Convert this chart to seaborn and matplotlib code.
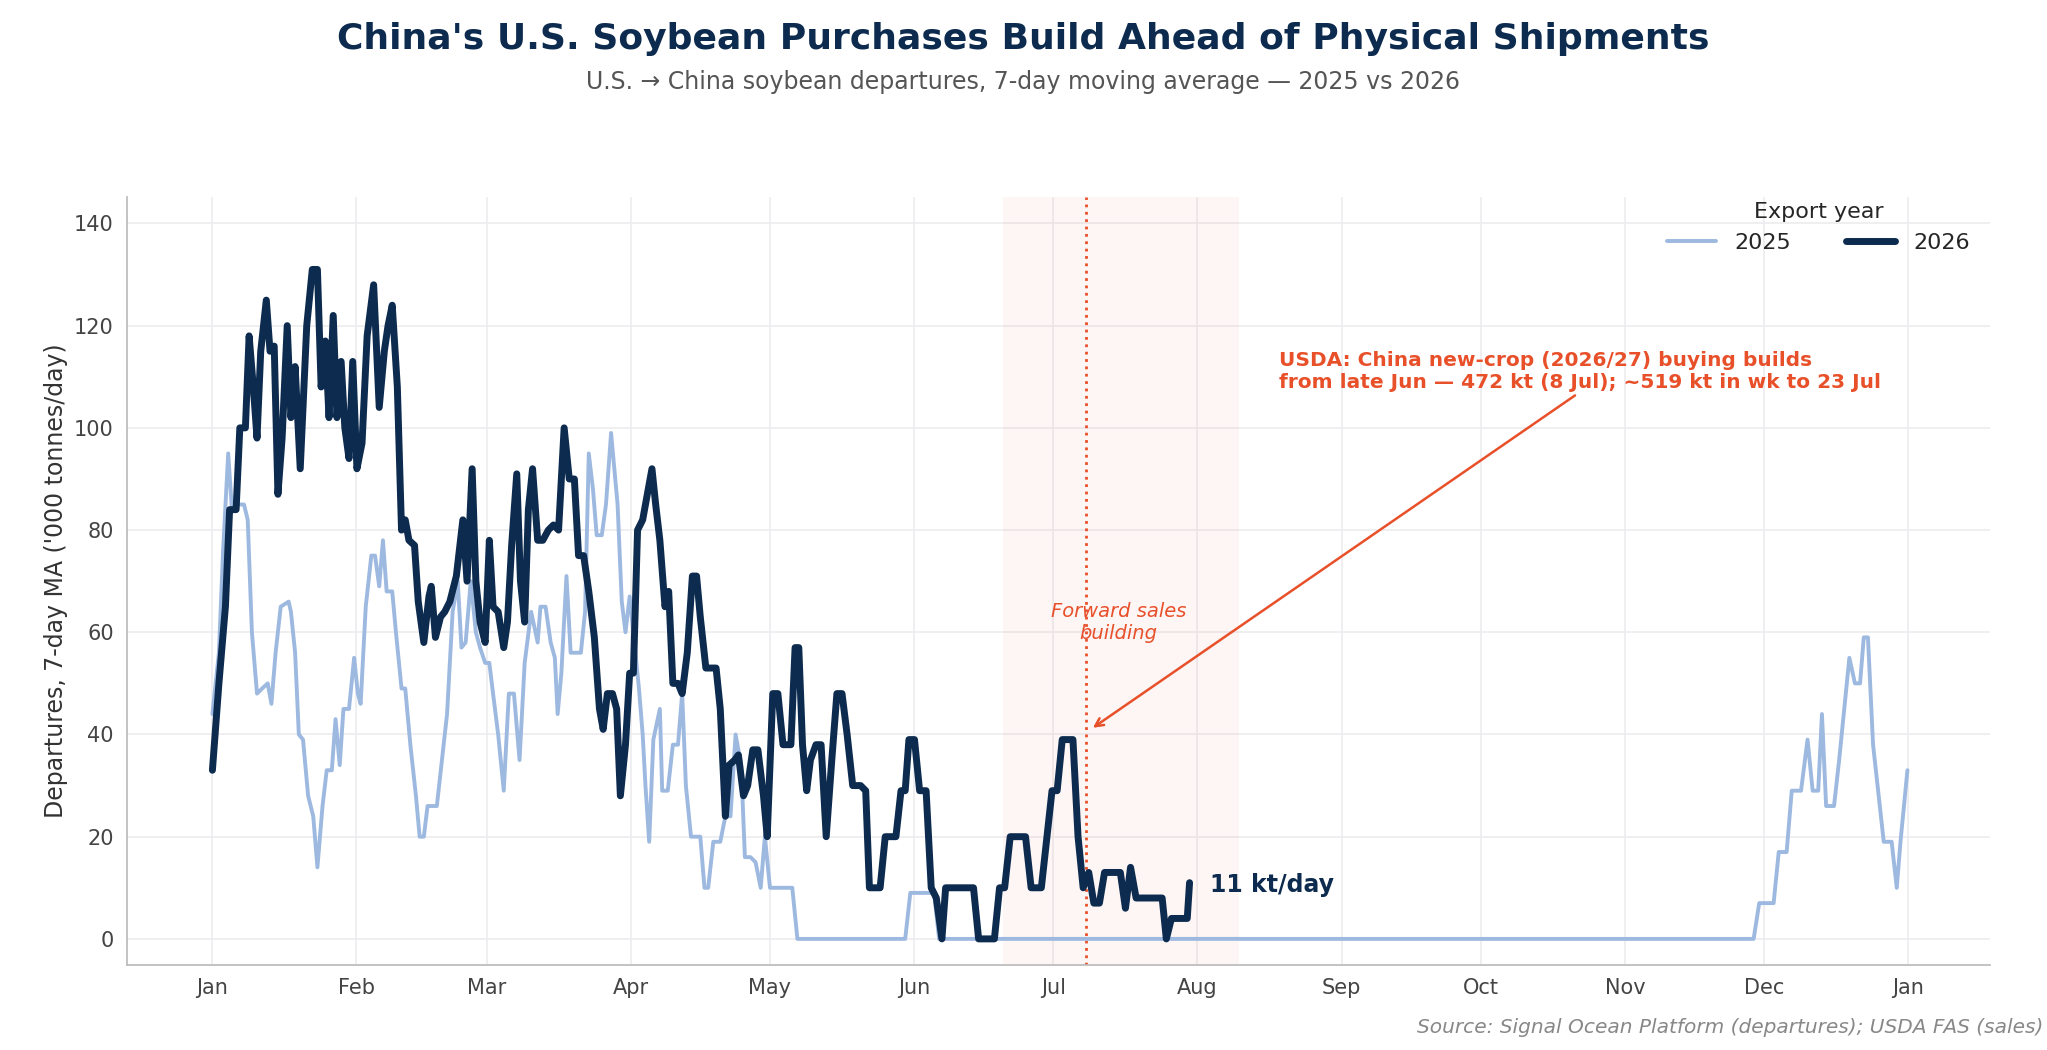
import numpy as np
import pandas as pd
import seaborn as sns
import matplotlib.pyplot as plt

# day of year (0 = 1 Jan) and 7-day MA departures ('000 t/day)
days_2026 = [0, 1.4, 2.8, 3.7, 5.1, 5.9, 7.1, 7.9, 8.8, 9.6, 10.4, 11.6, 12.4, 13.3, 14.1, 15.0, 16.1, 16.9,
             17.8, 18.9, 20.3, 21.5, 22.6, 23.4, 24.3, 25.1, 26.0, 26.8, 27.7, 28.5, 29.4, 30.2, 31.1, 32.2,
             33.3, 34.7, 35.9, 37.0, 37.8, 38.7, 39.8, 40.7, 41.5, 42.3, 43.5, 44.3, 45.5, 46.6, 47.1, 48.0,
             49.1, 50.0, 51.1, 52.5, 53.9, 54.8, 55.9, 56.7, 57.6, 58.7, 59.6, 60.4, 61.5, 62.7, 63.5, 64.4,
             65.5, 66.3, 67.2, 68.0, 68.9, 70.0, 71.1, 72.3, 73.4, 74.5, 75.7, 76.8, 77.9, 78.8, 79.9, 81.0,
             82.2, 83.3, 84.1, 85.0, 86.1, 87.0, 87.8, 88.9, 89.8, 90.6, 91.5, 92.6, 93.4, 94.6, 95.4, 96.3,
             97.4, 98.2, 99.1, 100.2, 101.1, 102.2, 103.3, 104.2, 105.0, 106.2, 107.3, 108.4, 109.3, 110.4,
             111.2, 112.4, 113.2, 114.3, 115.2, 116.3, 117.4, 118.6, 119.4, 120.6, 121.7, 122.8, 124.5, 125.4,
             126.2, 127.0, 127.9, 128.7, 129.9, 131.0, 132.1, 133.3, 134.4, 135.5, 136.6, 137.8, 139.5, 140.6,
             141.4, 142.6, 143.7, 144.8, 146.0, 147.1, 148.2, 149.1, 149.9, 151.1, 152.2, 153.6, 154.7, 155.8,
             157.0, 157.8, 159.2, 161.5, 163.8, 164.9, 167.1, 168.3, 169.4, 170.5, 171.7, 173.9, 175.0, 176.2,
             178.4, 179.6, 180.7, 181.8, 182.9, 185.2, 186.3, 187.4, 188.6, 189.7, 190.9, 192.0, 194.2, 195.4,
             196.5, 197.6, 198.8, 201.0, 203.3, 204.4, 205.3, 206.4, 208.6, 209.8, 210.3]
vals_2026 = [33, 50, 65, 84, 84, 100, 100, 118, 108, 98, 115, 125, 115, 116, 87, 98, 120, 102,
             112, 92, 120, 131, 131, 108, 117, 102, 122, 102, 113, 100, 94, 113, 92, 97,
             118, 128, 104, 115, 120, 124, 108, 80, 82, 78, 77, 66, 58, 67, 69, 59,
             63, 64, 66, 71, 82, 70, 92, 70, 62, 58, 78, 65, 64, 57, 62, 77,
             91, 70, 62, 84, 92, 78, 78, 80, 81, 80, 100, 90, 90, 75, 75, 68,
             59, 45, 41, 48, 48, 45, 28, 38, 52, 52, 80, 82, 86, 92, 85, 78,
             65, 68, 50, 50, 48, 56, 71, 71, 63, 53, 53, 53, 45, 24,
             34, 35, 36, 28, 30, 37, 37, 28, 20, 48, 48, 38, 38, 57,
             57, 38, 29, 35, 38, 38, 20, 35, 48, 48, 40, 30, 30, 29,
             10, 10, 10, 20, 20, 20, 29, 29, 39, 39, 29, 29, 10, 8,
             0, 10, 10, 10, 10, 0, 0, 0, 10, 10, 20, 20, 20, 10,
             10, 20, 29, 29, 39, 39, 20, 10, 13, 7, 7, 13, 13, 13,
             6, 14, 8, 8, 8, 8, 0, 4, 4, 4, 11]

days_2025 = [0, 1.4, 2.3, 3.4, 4.2, 5.4, 6.8, 7.6, 8.5, 9.6, 10.7, 11.9, 12.7, 13.6, 14.7, 16.4, 16.9, 17.8,
             18.6, 19.5, 20.6, 21.7, 22.6, 23.7, 24.6, 25.7, 26.5, 27.4, 28.2, 29.4, 30.5, 31.3, 31.9, 33.0,
             34.2, 35.0, 35.9, 36.7, 37.5, 38.7, 39.5, 40.7, 41.5, 42.6, 43.8, 44.6, 45.5, 46.3, 47.4, 48.3,
             49.4, 50.5, 51.7, 52.8, 53.6, 54.5, 55.6, 56.7, 57.6, 58.7, 59.6, 60.4, 61.5, 62.7, 63.8, 64.9,
             66.1, 67.2, 68.6, 70.0, 70.6, 71.7, 72.8, 73.7, 74.3, 75.1, 76.2, 77.1, 78.2, 79.3, 80.2, 81.0,
             81.9, 82.7, 83.8, 84.7, 85.8, 87.2, 88.1, 88.9, 89.8, 90.6, 91.8, 92.6, 93.2, 94.0, 94.9, 96.3,
             96.8, 98.0, 99.1, 100.2, 101.1, 101.9, 103.0, 104.2, 105.0, 105.9, 106.7, 107.8, 109.3, 110.4,
             111.5, 112.6, 113.8, 114.6, 115.8, 116.9, 118.0, 118.9, 120.0, 123.7, 124.8, 125.9, 149.1, 150.2,
             155.3, 156.4, 331.7, 332.9, 336.0, 337.1, 338.8, 339.9, 341.9, 343.3, 344.4, 345.6, 346.4, 347.3,
             349.0, 350.1, 351.2, 352.3, 353.5, 354.6, 355.4, 356.3, 357.4, 358.5, 359.7, 361.4, 362.5, 363.3,
             364.8]
vals_2025 = [44, 56, 76, 95, 84, 85, 85, 82, 60, 48, 49, 50, 46, 56, 65, 66, 64, 56,
             40, 39, 28, 24, 14, 26, 33, 33, 43, 34, 45, 45, 55, 48, 46, 65,
             75, 75, 69, 78, 68, 68, 60, 49, 49, 38, 28, 20, 20, 26, 26, 26,
             35, 44, 64, 70, 57, 58, 70, 60, 57, 54, 54, 48, 40, 29, 48, 48,
             35, 54, 64, 58, 65, 65, 58, 55, 44, 52, 71, 56, 56, 56, 64, 95,
             88, 79, 79, 85, 99, 85, 66, 60, 67, 60, 49, 40, 30, 19, 39, 45,
             29, 29, 38, 38, 48, 30, 20, 20, 20, 10, 10, 19, 19, 24,
             24, 40, 34, 16, 16, 15, 10, 20, 10, 10, 10, 0, 0, 9,
             9, 0, 0, 7, 7, 17, 17, 29, 29, 39, 29, 29, 44, 26,
             26, 35, 45, 55, 50, 50, 59, 59, 38, 29, 19, 19, 10, 19,
             33]

month_starts = [0, 31, 59, 90, 120, 151, 181, 212, 243, 273, 304, 334, 365]
month_labels = ['Jan', 'Feb', 'Mar', 'Apr', 'May', 'Jun', 'Jul', 'Aug', 'Sep', 'Oct', 'Nov', 'Dec', 'Jan']

c25 = '#9db9e0'
c26 = '#0d2b4e'
orange = '#e8502a'

sns.set_theme(style='whitegrid')
plt.rcParams['font.family'] = ['DejaVu Sans']

df = pd.concat([
    pd.DataFrame({'day': days_2025, 'value': vals_2025, 'year': '2025'}),
    pd.DataFrame({'day': days_2026, 'value': vals_2026, 'year': '2026'}),
])

fig = plt.figure(figsize=(20.47, 10.5), dpi=100)
ax = fig.add_axes([0.062, 0.081, 0.91, 0.731])

ax.axvspan(170.2, 221, color=orange, alpha=0.05, lw=0)
ax.axvline(188, color=orange, ls=':', lw=2)

sns.lineplot(data=df, x='day', y='value', hue='year', palette={'2025': c25, '2026': c26},
             size='year', sizes={'2025': 2.8, '2026': 5}, ax=ax, sort=False, estimator=None)

ax.set_xlim(-18.4, 382.5)
ax.set_ylim(-5.1, 145.1)
ax.set_xticks(month_starts)
ax.set_xticklabels(month_labels)
ax.set_yticks(range(0, 141, 20))
ax.tick_params(labelsize=15, colors='#444444')
ax.grid(color='#ececf0', lw=1.2)
for s in ['top', 'right']:
    ax.spines[s].set_visible(False)
for s in ['left', 'bottom']:
    ax.spines[s].set_color('#bbbbbb')
ax.set_xlabel('')
ax.set_ylabel("Departures, 7-day MA ('000 tonnes/day)", fontsize=17, color='#333333')

handles, labels = ax.get_legend_handles_labels()
pairs = [(h, l) for h, l in zip(handles, labels) if l in ('2025', '2026')]
leg = ax.legend([p[0] for p in pairs[:2]], [p[1] for p in pairs[:2]], title='Export year',
                ncol=2, loc='upper right', frameon=False, fontsize=16, title_fontsize=16,
                bbox_to_anchor=(1.0, 1.02), handlelength=2.2, columnspacing=2.5)

ax.text(195, 62, 'Forward sales\nbuilding', color=orange, style='italic', fontsize=14,
        ha='center', va='center')
ax.annotate('USDA: China new-crop (2026/27) buying builds\nfrom late Jun — 472 kt (8 Jul); ~519 kt in wk to 23 Jul',
            xy=(189, 41), xytext=(229.5, 111), color=orange, fontsize=14.5, fontweight='bold',
            ha='left', va='center',
            arrowprops=dict(arrowstyle='->', color=orange, lw=1.8, shrinkA=0,
                            relpos=(0.5, 0)))
ax.text(214.6, 10.5, '11 kt/day', color=c26, fontsize=17, fontweight='bold', va='center')

fig.text(0.5, 0.963, "China's U.S. Soybean Purchases Build Ahead of Physical Shipments",
         ha='center', va='center', fontsize=26, fontweight='bold', color='#0d2b4e')
fig.text(0.5, 0.922, 'U.S. → China soybean departures, 7-day moving average — 2025 vs 2026',
         ha='center', va='center', fontsize=17, color='#555555')
fig.text(0.998, 0.012, 'Source: Signal Ocean Platform (departures); USDA FAS (sales)',
         ha='right', va='bottom', fontsize=14.5, style='italic', color='#888888')

fig.savefig('out.png', dpi=100)
